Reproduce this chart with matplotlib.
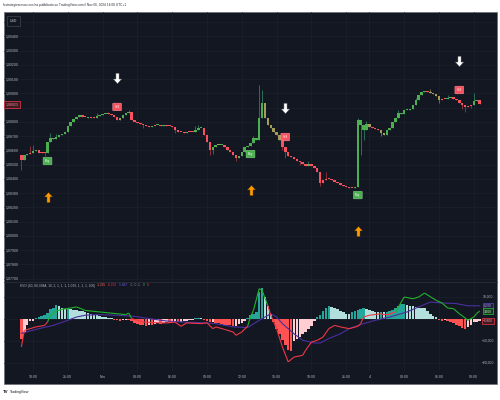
import numpy as np
import matplotlib
matplotlib.use('Agg')
import matplotlib.pyplot as plt
from matplotlib.path import Path
from matplotlib.lines import Line2D
from matplotlib.patches import Rectangle
from matplotlib.collections import LineCollection
from matplotlib.transforms import offset_copy, blended_transform_factory

plt.rcParams['font.family'] = ['Liberation Sans', 'DejaVu Sans']

# ── 15-min candles (close), open = previous close ────────────────────────────
FIRST_OPEN = 1.08567
CLOSE = [
    1.08532, 1.08567, 1.08574, 1.08581, 1.08595, 1.08602, 1.08581, 1.08588, 1.08581, 1.08658,
    1.08686, 1.08679, 1.08693, 1.08707, 1.08714, 1.08728, 1.08770, 1.08799, 1.08820, 1.08834,
    1.08848, 1.08834, 1.08832, 1.08827, 1.08834, 1.08827, 1.08841, 1.08848, 1.08855, 1.08853,
    1.08856, 1.08848, 1.08834, 1.08813, 1.08827, 1.08848, 1.08862, 1.08869, 1.08813, 1.08799,
    1.08792, 1.08784, 1.08777, 1.08770, 1.08763, 1.08770, 1.08777, 1.08775, 1.08770, 1.08777,
    1.08770, 1.08768, 1.08763, 1.08742, 1.08728, 1.08726, 1.08721, 1.08728, 1.08726, 1.08728,
    1.08742, 1.08756, 1.08754, 1.08707, 1.08658, 1.08602, 1.08623, 1.08637, 1.08635, 1.08637,
    1.08623, 1.08602, 1.08588, 1.08567, 1.08546, 1.08560, 1.08588, 1.08623, 1.08630, 1.08651,
    1.08686, 1.08672, 1.08827, 1.08932, 1.08827, 1.08777, 1.08756, 1.08728, 1.08707, 1.08672,
    1.08623, 1.08588, 1.08560, 1.08553, 1.08539, 1.08525, 1.08518, 1.08504, 1.08490, 1.08504,
    1.08490, 1.08476, 1.08448, 1.08370, 1.08392, 1.08399, 1.08397, 1.08392, 1.08377, 1.08370,
    1.08356, 1.08349, 1.08342, 1.08335, 1.08333, 1.08342, 1.08813, 1.08777, 1.08742, 1.08784,
    1.08763, 1.08756, 1.08749, 1.08742, 1.08721, 1.08707, 1.08742, 1.08756, 1.08799, 1.08827,
    1.08862, 1.08855, 1.08883, 1.08881, 1.08890, 1.08918, 1.08953, 1.08988, 1.09009, 1.09016,
    1.09009, 1.09002, 1.08995, 1.08981, 1.08953, 1.08960, 1.08958, 1.08967, 1.08974, 1.08960,
    1.08953, 1.08932, 1.08918, 1.08904, 1.08911, 1.08918, 1.08946, 1.08953, 1.08923,
]
HIGH_WICK = {3: 1.08630, 4: 1.08637, 10: 1.08721, 12: 1.08714, 26: 1.08862, 30: 1.08869,
             37: 1.08883, 60: 1.08770, 61: 1.08777, 80: 1.08700, 82: 1.09058, 83: 1.09023,
             99: 1.08525, 105: 1.08448, 116: 1.08827, 119: 1.08806, 130: 1.08883,
             136: 1.08967, 141: 1.09030, 147: 1.08988, 156: 1.09002}
LOW_WICK = {0: 1.08462, 8: 1.08560, 42: 1.08756, 53: 1.08721, 65: 1.08567, 66: 1.08574,
            74: 1.08525, 90: 1.08602, 91: 1.08546, 96: 1.08497, 103: 1.08349,
            117: 1.08567, 118: 1.08672, 124: 1.08700, 144: 1.08932, 152: 1.08890,
            153: 1.08869, 155: 1.08897}
# bar colouring of the indicator: g = bull, r = bear, o = neutral
BAR_STATE = ("rggrggrrr" + "g" * 12 + "rrgrr" + "ggggr" + "rrr" + "oggg"
             + "rrrrrrrgrgrgrrr" + "rrrrgrr" + "ggg" + "rrr" + "ggog" + "rrrrrg"
             + "g" * 8 + "o" * 6 + "rrrrrrrrrgrr" + "r" * 13 + "g" + "gggg"
             + "orrroo" + "g" * 14 + "rooo" + "orr" + "gg" + "r" * 7 + "gg" + "r")

BUY_IDX = [9, 79, 116]
SELL_IDX = [33, 91, 151]

# ── KVO oscillator ───────────────────────────────────────────────────────────
HIST = [
    -9.0, -6.0, -2.5, -1.0, -0.7, 0.6, 1.0, 1.4, 2.0, 2.8,
    4.5, 5.0, 6.5, 6.0, 4.8, 4.5, 4.8, 4.5, 4.2, 4.0,
    3.8, 3.5, 3.0, 2.6, 2.3, 2.0, 1.6, 1.3, 1.0, 0.8,
    0.6, 0.3, -0.3, -0.6, -0.8, -0.5, -0.3, -0.4, -1.0, -1.6,
    -2.2, -2.6, -2.8, -3.0, -2.6, -2.9, -2.4, -2.0, -2.2, -1.8,
    -1.5, -1.6, -1.3, -1.2, -1.5, -1.2, -0.9, -0.7, -0.6, -0.4,
    0.3, 0.6, 0.5, -0.4, -1.0, -1.5, -1.4, -1.6, -2.0, -2.2,
    -2.5, -2.7, -2.9, -3.2, -3.0, -2.4, -1.6, -0.9, 0.5, 1.8,
    2.4, 3.0, 12.5, 14.0, 10.0, 6.0, 2.5, -1.5, -4.5, -7.0,
    -9.5, -12.0, -14.0, -14.5, -10.0, -9.0, -8.0, -7.0, -6.0, -4.5,
    -3.0, -1.0, 1.0, 2.0, 3.5, 5.0, 6.0, 5.5, 5.0, 4.5,
    3.8, 3.0, 2.5, 2.2, 3.0, 3.5, 4.0, 4.5, 4.8, 4.5,
    4.0, 3.5, 3.2, 3.0, 3.2, 3.0, 3.2, 3.5, 4.0, 5.0,
    6.0, 6.8, 7.0, 6.5, 6.0, 5.8, 5.5, 5.2, 5.0, 4.8,
    3.5, 2.5, 1.5, 0.8, -0.5, -0.8, -0.6, -1.0, -1.5, -2.0,
    -2.5, -3.0, -4.0, -4.5, -3.5, -2.5, -1.5, -1.2, -0.8,
]
KVO_IDX = [0, 1, 3, 5, 8, 9, 10, 12, 14, 17, 19, 22, 27, 33, 36, 37, 38, 40, 42, 47,
           50, 53, 55, 57, 62, 64, 66, 67, 70, 73, 74, 76, 78, 79, 80, 82, 83, 85, 86, 88,
           90, 92, 94, 97, 98, 100, 102, 104, 106, 108, 110, 113, 116, 117, 118, 120, 124, 127, 129, 132,
           135, 137, 139, 143, 145, 147, 149, 151, 153, 154, 156, 157, 158]
KVO_VAL = [-12.7, -5.2, -4.4, -3.6, -2.9, -1.4, 1.7, 3.6, 4.4, 5.0, 5.5, 3.9, 3.2, 2.4, 2.0, 2.7, 0.2, -0.6, -1.4, -1.7,
           -1.8, -1.4, -3.3, -1.8, -2.1, -1.7, -4.4, -3.6, -4.7, -5.9, -7.4, -5.9, -3.3, 1.0, 3.9, 13.8, 13.0, 6.0, 1.7, -4.4,
           -12.7, -19.5, -17.3, -16.5, -14.2, -10.5, -9.7, -8.2, -4.4, -2.9, -3.6, -4.4, -3.3, -2.1, 0.9, 1.7, 2.4, 2.4, 3.2, 10.0,
           9.2, 10.0, 11.8, 8.5, 7.3, 5.0, 4.7, 2.4, 0.5, -0.6, 0.9, 2.5, 3.6]
KVO_STATE = ("rrrrrr" + "g" * 11 + "r" * 16 + "g" * 5 + "r" * 21 + "g" * 15 + "r" + "ggg")
SIG_IDX = [0, 6, 11, 16, 19, 22, 27, 33, 39, 44, 50, 56, 62, 67, 73, 78, 82, 86, 88,
           90, 94, 97, 101, 103, 106, 110, 113, 118, 122, 127, 133, 137, 141, 145, 150, 154, 158]
SIG_VAL = [-6.5, -4.4, -2.9, -0.6, 0.9, 1.7, 2.0, 1.7, 1.2, 0.2, -0.9, -1.4, -1.7, -2.1, -3.6, -3.9, -0.6, 2.4, 0.9,
           -2.1, -6.7, -9.7, -10.9, -10.9, -8.9, -6.7, -4.4, -2.1, -0.6, 0.9, 3.2, 5.5, 7.7, 7.3, 7.0, 6.0, 6.0]

TIME_TICK_IDX = [4, 16, 28, 40, 52, 64, 76, 88, 100, 112, 120, 132, 144, 156]
TIME_TICK_LBL = ['18:00', '21:00', 'Nov', '03:00', '06:00', '09:00', '12:00',
                 '15:00', '18:00', '21:00', '4', '03:00', '06:00', '09:00']
OSC_TICKS = [10, -10, -20]

# ── palette ──────────────────────────────────────────────────────────────────
BG = '#131722'
GRID = '#1d212c'
TXT = '#b2b5be'
CANDLE = {'g': '#4caf50', 'r': '#f7525f', 'o': '#a39e57'}
WICK = {'g': '#2b6e55', 'r': '#8c2f3a', 'o': '#6f6b3e'}
KVO_COL = {'g': '#1fb42a', 'r': '#f23645'}
SIG_COL = '#4a2fa0'

W, H = 500, 400
fig = plt.figure(figsize=(5, 4), dpi=100, facecolor='white')
fig.patches.append(Rectangle((3.5 / W, 1 - 384 / H), 493.5 / W, 372 / H,
                             transform=fig.transFigure, facecolor=BG,
                             edgecolor='#6a6d78', linewidth=0.5, zorder=-5))

def px_axes(left, top, right, bottom):
    return fig.add_axes([left / W, 1 - bottom / H, (right - left) / W, (bottom - top) / H])

ax = px_axes(4, 12, 497, 281)
ax2 = px_axes(4, 282, 497, 371)
for a in (ax, ax2):
    a.set_facecolor('none')
    for s in a.spines.values():
        s.set_visible(False)
    a.set_xticks([])
    a.set_yticks([])
    a.set_xlim(-6, 164)

fig.add_artist(Line2D([4 / W, 497 / W], [1 - 281.5 / H] * 2, color='#2a2e39', lw=0.6))

# ── main pane ────────────────────────────────────────────────────────────────
p_top = 1.090 + (93.3 - 12) / 14250
p_bot = 1.090 - (281 - 93.3) / 14250
ax.set_ylim(p_bot, p_top)

price_ticks = np.round(np.arange(1.077, 1.0951, 0.001), 3)
for p in price_ticks:
    ax.axhline(p, color=GRID, lw=0.5, zorder=0)
for t in TIME_TICK_IDX:
    ax.axvline(t, color=GRID, lw=0.5, zorder=0)
    ax2.axvline(t, color=GRID, lw=0.5, zorder=0)

ylab = blended_transform_factory(ax.transAxes, ax.transData)
for p in price_ticks[:-1]:
    ax.text(0.003, p, f'{p:.5f}'.replace('.', ','), transform=ylab, ha='left',
            va='center', fontsize=2.5, color=TXT, zorder=5)

close = np.array(CLOSE)
idx = np.arange(len(close))
opn = np.r_[FIRST_OPEN, close[:-1]]
body_lo = np.minimum(opn, close)
body_hi = np.maximum(opn, close)
high = body_hi.copy()
low = body_lo.copy()
for k, v in HIGH_WICK.items():
    high[k] = v
for k, v in LOW_WICK.items():
    low[k] = v

ccol = [CANDLE[s] for s in BAR_STATE]
wcol = [WICK[s] for s in BAR_STATE]
ax.vlines(idx, low, high, colors=wcol, lw=0.7, zorder=2)
ax.bar(idx, np.maximum(body_hi - body_lo, 0.00008), bottom=body_lo, width=0.85,
       color=ccol, linewidth=0, zorder=3)

# signals
arrow_up = Path([(0, 1), (0.8, 0.1), (0.3, 0.1), (0.3, -1), (-0.3, -1), (-0.3, 0.1),
                 (-0.8, 0.1), (0, 1)],
                [Path.MOVETO] + [Path.LINETO] * 6 + [Path.CLOSEPOLY])
arrow_dn = Path(arrow_up.vertices * [1, -1], arrow_up.codes)

for i in BUY_IDX:
    ax.annotate('Buy', xy=(i, body_lo[i]), xytext=(0, -8 * 0.72), textcoords='offset points',
                ha='center', va='center', fontsize=2.2, color='white', zorder=6,
                bbox=dict(boxstyle='round,pad=0.6,rounding_size=0.25', fc='#4caf50',
                          ec='#8bd38e', lw=0.3))
    tr = offset_copy(ax.transData, fig=fig, x=0, y=-44, units='dots')
    ax.plot(i, body_lo[i], marker=arrow_up, ms=7.5, color='#ff9800', mec='#3a2a10',
            mew=0.3, transform=tr, ls='none', zorder=6)

for i in SELL_IDX:
    ax.annotate('Sell', xy=(i, high[i]), xytext=(0, 10 * 0.72), textcoords='offset points',
                ha='center', va='center', fontsize=2.2, color='white', zorder=6,
                bbox=dict(boxstyle='round,pad=0.6,rounding_size=0.25', fc='#f7525f',
                          ec='#ff9aa2', lw=0.3))
    tr = offset_copy(ax.transData, fig=fig, x=0, y=39, units='dots')
    ax.plot(i, high[i], marker=arrow_dn, ms=7.5, color='white', mec='#555555',
            mew=0.3, transform=tr, ls='none', zorder=6)

# price labels on the left
ax.text(0.012, 1 - 9 / 269, 'USD', transform=ax.transAxes, ha='left', va='center',
        fontsize=2.5, color='#d1d4dc', zorder=7,
        bbox=dict(boxstyle='square,pad=0.9', fc=BG, ec='#434651', lw=0.5))
ax.text(0.003, close[-1], f'{close[-1]:.5f}'.replace('.', ','), transform=ylab,
        ha='left', va='center', fontsize=2.5, color='#ff8a92', zorder=7,
        bbox=dict(boxstyle='square,pad=0.4', fc='#3d1b24', ec='#f23645', lw=0.5))

# ── oscillator pane ──────────────────────────────────────────────────────────
ax2.set_ylim(-(371 - 319) / 2.2, (319 - 282) / 2.2)
for v in OSC_TICKS + [0]:
    ax2.axhline(v, color=GRID, lw=0.5, zorder=0)

hist = np.array(HIST)
prev = np.r_[0.0, hist[:-1]]
hcol = np.where(hist >= 0,
                np.where(hist >= prev, '#26a69a', '#b2dfdb'),
                np.where(hist < prev, '#ff5252', '#ffcdd2'))
ax2.bar(idx, hist, width=0.85, color=hcol, linewidth=0, zorder=2)

ax2.plot(SIG_IDX, SIG_VAL, color=SIG_COL, lw=0.8, zorder=3)
segs = [[(KVO_IDX[j - 1], KVO_VAL[j - 1]), (KVO_IDX[j], KVO_VAL[j])]
        for j in range(1, len(KVO_IDX))]
ax2.add_collection(LineCollection(segs, colors=[KVO_COL[s] for s in KVO_STATE[1:]],
                                  linewidths=0.8, zorder=4))

rlab = blended_transform_factory(ax2.transAxes, ax2.transData)
for v in OSC_TICKS:
    ax2.text(0.982, v, f'{v:.3f}'.replace('.', ',').replace('-', '\u2212'),
             transform=rlab, ha='center', va='center', fontsize=2.4, color=TXT)

for val, fc, ec, tc in [(SIG_VAL[-1], '#1e1a3a', '#5e48b8', '#b7a8ff'),
                        (KVO_VAL[-1], '#123a1c', '#2fbf3a', '#c8f5cb'),
                        (HIST[-1], '#3d1b24', '#f23645', '#ff9aa2')]:
    ax2.text(0.982, val, f'{val:.3f}'.replace('.', ',').replace('-', '\u2212'),
             transform=rlab, ha='center', va='center', fontsize=2.3, color=tc, zorder=8,
             bbox=dict(boxstyle='square,pad=0.35', fc=fc, ec=ec, lw=0.5))

# legend line
legend = [('KVO (40, 80, EMA, 10, 2, 1, 1, 1, 1.019, 1, 1, 1, 100)', TXT),
          ('-1.225', '#ff6a5c'), ('-6.372', '#f23645'), ('-5.847', '#6d5bd0'),
          ('\u2205 \u2205 \u2205', '#787b86'), ('0', '#4caf50'), ('0', '#f23645')]
t = ax2.text(16 / 493, 1 - 5.5 / 89, legend[0][0], transform=ax2.transAxes,
             ha='left', va='bottom', fontsize=2.3, color=legend[0][1])
for s, c in legend[1:]:
    t = ax2.annotate(s, xy=(1, 0), xycoords=t, xytext=(1.4, 0), textcoords='offset points',
                     ha='left', va='bottom', fontsize=2.3, color=c)

# time axis
tx = blended_transform_factory(ax2.transData, fig.transFigure)
for t_i, lbl in zip(TIME_TICK_IDX, TIME_TICK_LBL):
    fig.text(t_i, 1 - 377.5 / H, lbl, transform=tx, ha='center', va='center',
             fontsize=2.5, color=TXT)

# header / footer
fig.text(3 / W, 1 - 5 / H, 'fxstrategiesresources ha pubblicato su TradingView.com il '
         'Nov 06, 2024 14:08 UTC+1', ha='left', va='center', fontsize=2.3, color='#2a2e39')
fig.text(3 / W, 1 - 392 / H, 'TV', ha='left', va='center', fontsize=3.2,
         fontweight='bold', color='#131722')
fig.text(10 / W, 1 - 392 / H, 'TradingView', ha='left', va='center', fontsize=2.5,
         color='#131722')

fig.savefig('out.png', dpi=100, facecolor='white')
